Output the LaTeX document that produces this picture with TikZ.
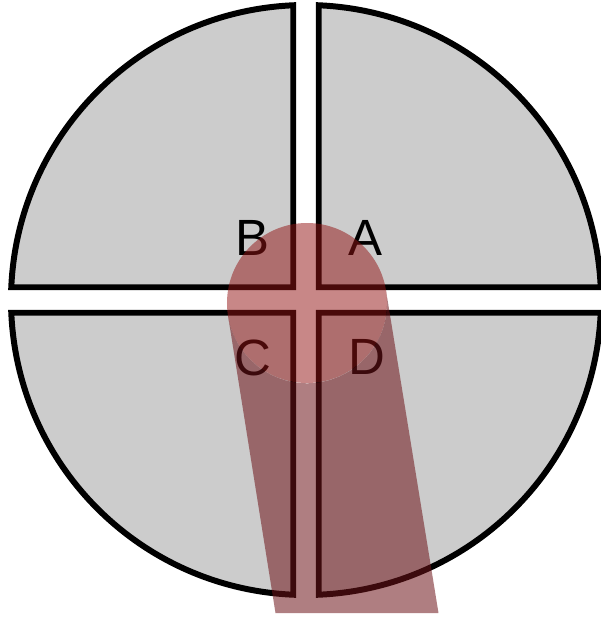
\documentclass[tikz,border=0pt]{standalone}
\usepackage{fontspec}
\setmainfont{Liberation Sans}
\usetikzlibrary{calc}
\definecolor{Cuadrante}{HTML}{CCCCCC}
\definecolor{Haz}{HTML}{931414}
\definecolor{ColaHaz}{HTML}{6E1419}

\begin{document}
\begin{tikzpicture}[
        cuadrante/.style={draw=black,fill=Cuadrante,line width=3.4pt},
        letra/.style={font=\fontsize{29}{29}\selectfont,inner sep=0pt},
        mancha/.style={circle,minimum size=3.2cm,inner sep=0pt,outer sep=0pt,fill=Haz,fill opacity=.51},
        cola/.style={fill=ColaHaz,fill opacity=.55}]
        \useasboundingbox (-6.12,-6.38) rectangle (5.88,6.0);
        \def\rr{5.9}\def\gp{0.255}
        \pgfmathsetmacro\ang{acos(\gp/\rr)}
        % fotodiodo de cuatro cuadrantes
        \draw[cuadrante] (\gp,\gp) -- (\ang:\rr) arc[start angle=\ang,end angle={90-\ang},radius=\rr] -- cycle;
        \draw[cuadrante,rotate=90] (\gp,\gp) -- (\ang:\rr) arc[start angle=\ang,end angle={90-\ang},radius=\rr] -- cycle;
        \draw[cuadrante,rotate=180] (\gp,\gp) -- (\ang:\rr) arc[start angle=\ang,end angle={90-\ang},radius=\rr] -- cycle;
        \draw[cuadrante,rotate=270] (\gp,\gp) -- (\ang:\rr) arc[start angle=\ang,end angle={90-\ang},radius=\rr] -- cycle;
        \node[letra] (a) at (1.19,1.24) {A};
        \node[letra] (b) at (-1.08,1.24) {B};
        \node[letra] (c) at (-1.06,-1.16) {C};
        \node[letra] (d) at (1.22,-1.14) {D};
        % haz laser
        \coordinate (colaIzq) at (-0.61,-6.26);
        \coordinate (colaDer) at (2.65,-6.26);
        \node[mancha] (spot) at (0.02,-0.06) {};
        \fill[cola] (spot.189.2) -- (colaIzq) -- (colaDer) -- (spot.9.2) arc[start angle=9.2,end angle=-170.8,radius=1.6cm] -- cycle;
      \end{tikzpicture}
\end{document}
